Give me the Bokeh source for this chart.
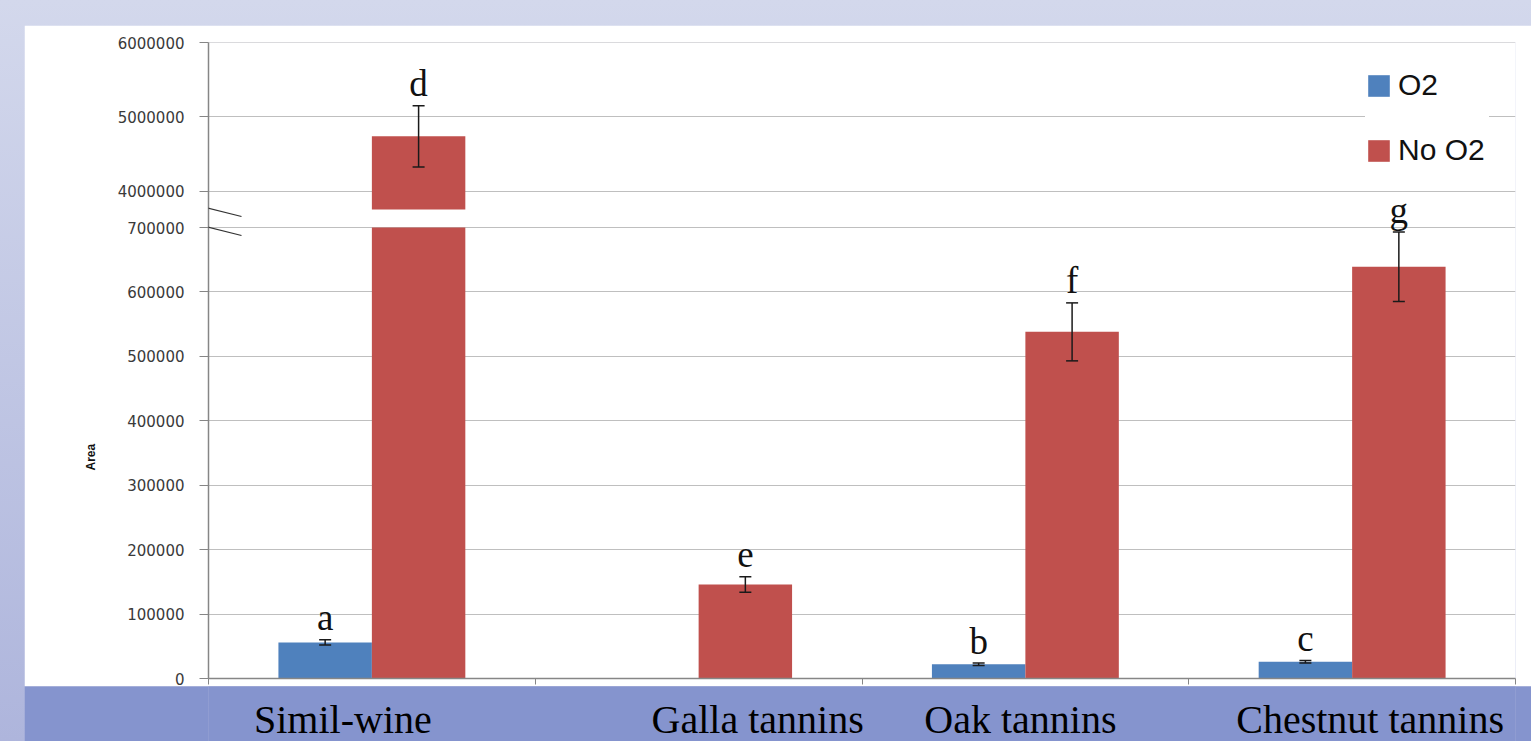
import math
import numpy as np
from bokeh.plotting import figure
from bokeh.models import (ColumnDataSource, Range1d, FixedTicker, Legend, LegendItem, Arrow,
                          Title, CustomJSTickFormatter)
from bokeh.layouts import column
from bokeh.core.properties import value
from bokeh.embed import file_html
from bokeh.resources import INLINE

# ---------------- data ----------------
categories = ["Simil-wine", "Galla tannins", "Oak tannins", "Chestnut tannins"]
o2_values = [56000, float("nan"), 22000, 26000]
o2_errors = [4000, float("nan"), 2000, 2000]
no_o2_values = [4740000, 146000, 538000, 639000]
no_o2_errors = [412000, 12000, 45000, 54000]
o2_letters = ["a", "", "b", "c"]
no_o2_letters = ["d", "e", "f", "g"]
lower_ticks = [0, 100000, 200000, 300000, 400000, 500000, 600000, 700000]
upper_ticks = [4000000, 5000000, 6000000]
series_names = ["O2", "No O2"]
y_label = "Area"

# ---------------- style / geometry ----------------
BLUE = "#4F81BD"
RED = "#C0504D"
BAND = "#8594CE"
GRID = "#BFBFBF"
AXIS = "#868686"

break_low = 700000      # top of lower axis segment
break_high = 3757000    # bottom of upper axis segment
upper_end = 6000000
frame_h = 636
frame_w = 1307
lower_px = 451
upper_px = 167
bar_w = 0.286
offs = [-0.143, 0.143]

lo_end = break_low * frame_h / lower_px
up_start = upper_end - (upper_end - break_high) * frame_h / upper_px
n_cat = len(categories)
cat_center = np.arange(n_cat) + 0.5


def upper_to_lower(v):
    f = (v - up_start) / (upper_end - up_start)
    return int(math.floor(f * lo_end))


W = 1507
H = 661
BORDER_L = 184
BORDER_R = W - BORDER_L - frame_w
xr = Range1d(0, n_cat)
p = figure(width=W, height=H, x_range=xr, y_range=Range1d(0, lo_end),
           x_axis_location="below", y_axis_location="left",
           toolbar_location=None, output_backend="svg",
           min_border_left=BORDER_L, min_border_right=BORDER_R, min_border_top=17,
           min_border_bottom=8,
           background_fill_color="white", border_fill_color="white",
           outline_line_color=None)
p.extra_y_ranges = {"upper": Range1d(up_start, upper_end)}
p.xgrid.visible = False

# y axis with broken ticks
tick_pos = list(lower_ticks) + [upper_to_lower(t) for t in upper_ticks]
tick_lab = [str(t) for t in lower_ticks] + [str(t) for t in upper_ticks]
ya = p.yaxis[0]
ya.ticker = FixedTicker(ticks=tick_pos)
ya.major_label_overrides = {pos: lab for pos, lab in zip(tick_pos, tick_lab)}
ya.major_label_text_font = "DejaVu Sans"
ya.major_label_text_font_size = "15px"
ya.major_label_text_color = "#3A3A3A"
ya.major_tick_out = 9
ya.major_tick_in = 0
ya.minor_tick_line_color = None
ya.major_tick_line_color = AXIS
ya.axis_line_color = AXIS
ya.axis_line_width = 1.5
ya.major_label_standoff = 15
p.ygrid.grid_line_color = GRID
p.ygrid.grid_line_width = 1.2

# y-axis title, placed lower than the frame middle as in the original
p.add_layout(Title(text=y_label, align="left", offset=208, standoff=34,
                   text_font="Liberation Sans", text_font_style="bold",
                   text_font_size="12px", text_color="#111111"), "left")

# category boundary ticks below
xa = p.xaxis[0]
xa.ticker = FixedTicker(ticks=list(range(n_cat + 1)))
xa.formatter = CustomJSTickFormatter(code="return ''")
xa.major_tick_out = 6
xa.major_tick_in = 0
xa.major_label_text_font_size = "1px"
xa.major_label_standoff = 0
xa.axis_line_color = AXIS
xa.axis_line_width = 1.5
xa.major_tick_line_color = AXIS
xa.minor_tick_line_color = None

legend_renderers = []
for vals, errs, letters, color, off in [
        (o2_values, o2_errors, o2_letters, BLUE, offs[0]),
        (no_o2_values, no_o2_errors, no_o2_letters, RED, offs[1])]:
    v = np.array(vals, dtype=float)
    e = np.array(errs, dtype=float)
    xs = cat_center + off
    lets = np.array(letters)
    ok = ~np.isnan(v)
    up = ok & (v > break_low)
    lo = ok & ~up
    # lower segment bars (clipped at the break)
    src_lo_bar = ColumnDataSource(dict(x=xs[ok], top=np.minimum(v[ok], break_low)))
    r = p.vbar(x="x", top="top", bottom=0, width=bar_w,
               source=src_lo_bar, fill_color=color, line_color=None)
    legend_renderers.append(r)
    # upper segment bars
    if up.any():
        src_up_bar = ColumnDataSource(dict(x=xs[up], top=v[up]))
        p.vbar(x="x", top="top", bottom=break_high, width=bar_w,
               source=src_up_bar, fill_color=color, line_color=None, y_range_name="upper")
    # error bars + letters
    for mask, rng in [(lo, "default"), (up, "upper")]:
        if not mask.any():
            continue
        src = ColumnDataSource(dict(x=xs[mask], hi=v[mask] + e[mask], lo=v[mask] - e[mask],
                                    letter=lets[mask]))
        kw = {} if rng == "default" else {"y_range_name": "upper"}
        p.segment(x0="x", y0="lo", x1="x", y1="hi", source=src, line_color="#1A1A1A",
                  line_width=1.5, **kw)
        p.scatter(x="x", y="hi", marker="dash", size=12, source=src, line_color="#1A1A1A",
                  line_width=1.5, **kw)
        p.scatter(x="x", y="lo", marker="dash", size=12, source=src, line_color="#1A1A1A",
                  line_width=1.5, **kw)
        p.text(x="x", y="hi", text="letter", source=src, text_font=value("Liberation Serif"),
               text_font_size="37px", text_align="center", text_baseline="alphabetic",
               y_offset=-22, text_color="#111111", **kw)

# axis break marks
def px_to_lower(py):
    return lo_end * (1 - py / frame_h)

cat_px = frame_w / n_cat
for y0, y1 in [(158, 174), (177, 193)]:
    p.add_layout(Arrow(end=None, x_start=-31 / cat_px, y_start=px_to_lower(y0),
                       x_end=33 / cat_px, y_end=px_to_lower(y1),
                       line_color="#333333", line_width=1.2))

legend = Legend(items=[LegendItem(label=series_names[0], renderers=[legend_renderers[0]]),
                       LegendItem(label=series_names[1], renderers=[legend_renderers[1]])],
                location="top_right", glyph_width=27, glyph_height=27, label_height=27,
                label_width=91, label_standoff=6, label_text_font="Liberation Sans",
                label_text_font_size="30px",
                label_text_color="#111111", spacing=31, padding=22, margin=26,
                border_line_color=None, background_fill_color="white", background_fill_alpha=1)
p.add_layout(legend)

# blue band with category labels
band_nudge_px = [-29, 59, -5, 18]
BAND_H = 55
band = figure(width=W, height=BAND_H, x_range=xr, y_range=Range1d(0, 1),
              x_axis_location=None, y_axis_location=None, toolbar_location=None,
              output_backend="svg", min_border_left=BORDER_L, min_border_right=BORDER_R,
              min_border_top=0, min_border_bottom=0,
              background_fill_color=BAND, border_fill_color=BAND, outline_line_color=None)
band.grid.visible = False
bsrc = ColumnDataSource(dict(x=cat_center, cat=categories, nudge=band_nudge_px))
band.text(x="x", y=1 - 33 / BAND_H, text="cat", x_offset="nudge", source=bsrc,
          text_font=value("Liberation Serif"), text_font_size="40px", text_align="center",
          text_baseline="middle", text_color="#000000")

p.margin = (25, 0, 0, 24)
band.margin = (0, 0, 0, 24)
layout = column(p, band, spacing=0,
                styles={"background": "linear-gradient(to bottom, #D3D8EC, #AEB5DC)"})

open("out.html", "w").write(file_html(layout, INLINE))
